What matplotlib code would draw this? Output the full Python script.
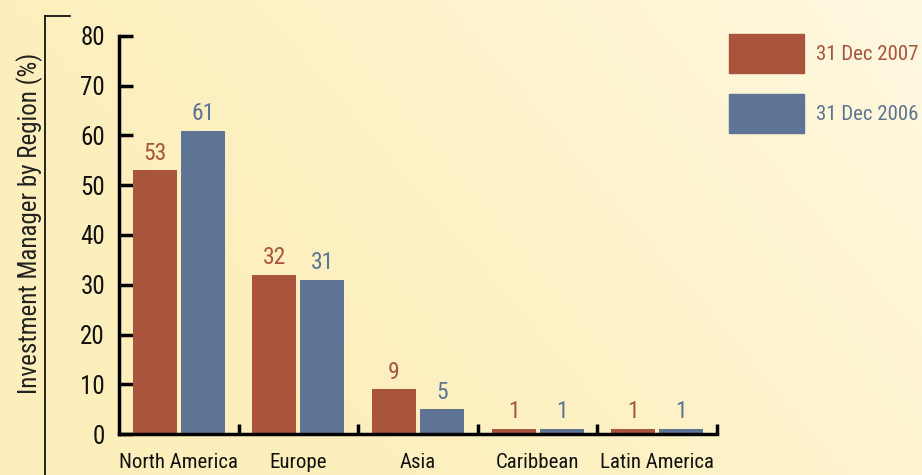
import numpy as np
import matplotlib
matplotlib.use("Agg")
import matplotlib.pyplot as plt
from matplotlib import font_manager as fm

categories = ["North America", "Europe", "Asia", "Caribbean", "Latin America"]
values_2007 = [53, 32, 9, 1, 1]
values_2006 = [61, 31, 5, 1, 1]
series_labels = ["31 Dec 2007", "31 Dec 2006"]
yticks = [0, 10, 20, 30, 40, 50, 60, 70, 80]
ylabel = "Investment Manager by Region (%)"

RED = "#A9553E"
BLUE = "#5F7494"

# choose a condensed font if one exists
FONT, STRETCH = None, "normal"
cands = []
for f in fm.fontManager.ttflist:
    n = f.name
    if any(k in n for k in ("Condensed", "Narrow")) and f.weight in (400, "normal", "regular"):
        cands.append((n, "normal"))
for pref in ("Roboto Condensed", "Liberation Sans Narrow", "Open Sans Condensed", "DejaVu Sans Condensed"):
    for n, s in cands:
        if n == pref:
            FONT, STRETCH = n, s
            break
    if FONT:
        break
if FONT is None and cands:
    FONT = cands[0][0]
if FONT is None:
    dv = [f for f in fm.fontManager.ttflist if f.name == "DejaVu Sans" and f.stretch == "condensed"]
    if dv:
        FONT, STRETCH = "DejaVu Sans", "condensed"
    else:
        FONT = "Roboto"
plt.rcParams["font.family"] = [FONT, "DejaVu Sans"]
plt.rcParams["font.stretch"] = STRETCH

W, H = 922, 475
fig = plt.figure(figsize=(W / 100, H / 100), dpi=100)

# background gradient
bg = fig.add_axes([0, 0, 1, 1], zorder=-10)
yy, xx = np.mgrid[0:1:200j, 0:1:400j]
t = np.clip(0.8 * xx + 0.35 * (1 - yy) - 0.25, 0, 1)
t = t ** 1.4
c0 = np.array([253, 239, 188]) / 255
c1 = np.array([255, 250, 232]) / 255
img = c0[None, None, :] * (1 - t[..., None]) + c1[None, None, :] * t[..., None]
bg.imshow(img, aspect="auto", extent=[0, 1, 0, 1], origin="upper")
bg.set_axis_off()
bg.plot([45 / W, 45 / W], [0, 1 - 16 / H], color="black", lw=1.2)
bg.plot([45 / W, 70 / W], [1 - 16 / H, 1 - 16 / H], color="black", lw=1.2)
bg.set_xlim(0, 1)
bg.set_ylim(0, 1)

ax = fig.add_axes([119 / W, 41 / H, (717 - 119) / W, (434 - 36) / H])
ax.patch.set_alpha(0)
x = np.arange(len(categories))
bw = 0.368
ax.bar(x - 0.2, values_2007, bw, color=RED, zorder=2)
ax.bar(x + 0.2, values_2006, bw, color=BLUE, zorder=2)
for xi, v in zip(x, values_2007):
    ax.annotate(str(v), (xi - 0.2, v), xytext=(0, 4), textcoords="offset points",
                ha="center", va="bottom", color=RED, fontsize=17)
for xi, v in zip(x, values_2006):
    ax.annotate(str(v), (xi + 0.2, v), xytext=(0, 4), textcoords="offset points",
                ha="center", va="bottom", color=BLUE, fontsize=17)

ax.set_xlim(-0.5, len(categories) - 0.5)
ax.set_ylim(0, 80)
for s in ["top", "right"]:
    ax.spines[s].set_visible(False)
ax.spines["left"].set_linewidth(2.5)
ax.spines["bottom"].set_linewidth(2.5)
ax.set_yticks(yticks)
ax.tick_params(axis="y", direction="in", length=10, width=2.5, labelsize=18, pad=10,
               labelcolor="#111111")
ax.set_xticks(np.arange(len(categories)) + 0.5)
ax.set_xticklabels([])
ax.tick_params(axis="x", which="major", direction="in", length=7, width=2.5)
ax.set_xticks(x, minor=True)
ax.set_xticklabels(categories, minor=True)
ax.tick_params(axis="x", which="minor", length=0, labelsize=15, pad=14, labelcolor="#111111")

fig.text(30 / W, 1 - 223 / H, ylabel, rotation=90, ha="center", va="center", fontsize=18,
         color="#222222")

for i, (lab, col) in enumerate(zip(series_labels, [RED, BLUE])):
    top = 34 + 60 * i
    fig.patches.append(plt.Rectangle((729 / W, 1 - (top + 39) / H), 75 / W, 39 / H,
                                     transform=fig.transFigure, color=col, figure=fig))
    fig.text(816 / W, 1 - (top + 20) / H, lab, color=col, fontsize=15, va="center", ha="left")

fig.savefig("out.png", dpi=100)
